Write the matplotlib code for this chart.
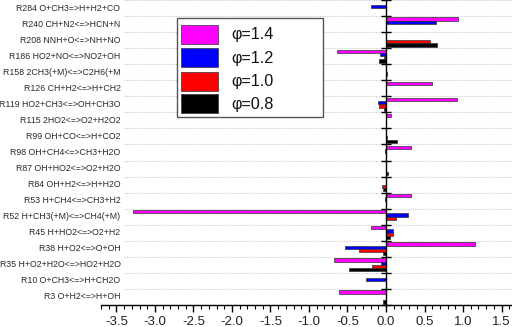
import numpy as np
import matplotlib
matplotlib.use("Agg")
import matplotlib.pyplot as plt
from matplotlib.patches import Rectangle
from matplotlib.ticker import MultipleLocator, FormatStrFormatter
from matplotlib.transforms import blended_transform_factory

plt.rcParams['font.family'] = ['Liberation Sans', 'DejaVu Sans']
plt.rcParams['axes.unicode_minus'] = False

reactions = [
    "R284 O+CH3=>H+H2+CO",
    "R240 CH+N2<=>HCN+N",
    "R208 NNH+O<=>NH+NO",
    "R186 HO2+NO<=>NO2+OH",
    "R158 2CH3(+M)<=>C2H6(+M",
    "R126 CH+H2<=>H+CH2",
    "R119 HO2+CH3<=>OH+CH3O",
    "R115 2HO2<=>O2+H2O2",
    "R99 OH+CO<=>H+CO2",
    "R98 OH+CH4<=>CH3+H2O",
    "R87 OH+HO2<=>O2+H2O",
    "R84 OH+H2<=>H+H2O",
    "R53 H+CH4<=>CH3+H2",
    "R52 H+CH3(+M)<=>CH4(+M)",
    "R45 H+HO2<=>O2+H2",
    "R38 H+O2<=>O+OH",
    "R35 H+O2+H2O<=>HO2+H2O",
    "R10 O+CH3<=>H+CH2O",
    "R3 O+H2<=>H+OH",
]

phi_14 = [0, 0.93, 0, -0.63, 0, 0.60, 0.92, 0.07, 0, 0.32, 0, 0, 0.32, -3.28, -0.195, 1.15, -0.68, 0, -0.61]
phi_12 = [-0.19, 0.65, 0, -0.08, 0, 0, -0.11, 0, 0, -0.01, 0, 0, -0.01, 0.29, 0.095, -0.53, -0.065, -0.265, 0]
phi_10 = [0, 0, 0.57, -0.03, 0.01, 0, -0.09, 0, 0.01, 0, 0, -0.05, 0, 0.13, 0.09, -0.35, -0.18, 0, 0]
phi_08 = [0, 0, 0.66, -0.09, 0, 0, -0.03, 0, 0.14, 0, 0.03, -0.035, 0, 0, 0.055, -0.04, -0.48, 0, -0.035]

series_labels = ["\u03c6=1.4", "\u03c6=1.2", "\u03c6=1.0", "\u03c6=0.8"]
series_colors = ["#ff00ff", "#0000ff", "#ff0000", "#000000"]
series_values = [phi_14, phi_12, phi_10, phi_08]

W, H = 512, 327
fig = plt.figure(figsize=(W / 100, H / 100), dpi=100)
ax = fig.add_axes([101 / W, 22 / H, 411 / W, 305 / H])

n = len(reactions)
y = np.arange(n)
bh = 0.205
offsets = [-1.5, -0.5, 0.5, 1.5]

# grid lines at category boundaries
for b in np.arange(-0.5, n, 1.0):
    ax.axhline(b, xmin=0.055, color='#c8c8c8', lw=0.8, ls=(0, (1, 1.2)), zorder=0)

for vals, col, off, lab in zip(series_values, series_colors, offsets, series_labels):
    ax.barh(y + off * bh, vals, height=bh, color=col, edgecolor='#333333',
            linewidth=0.5, zorder=2, label=lab)

ax.set_ylim(n - 0.5, -0.5)
ax.set_xlim(-3.70, 1.636)

# vertical zero axis
for s in ['top', 'right']:
    ax.spines[s].set_visible(False)
ax.spines['left'].set_position(('data', 0))
ax.spines['left'].set_linewidth(1.0)
ax.spines['left'].set_zorder(3)
ax.set_yticks(np.arange(-0.5, n, 1.0))
ax.tick_params(axis='y', direction='inout', length=7, width=1, labelleft=False)

ax.spines['bottom'].set_linewidth(1.0)
ax.xaxis.set_major_locator(MultipleLocator(0.5))
ax.xaxis.set_minor_locator(MultipleLocator(0.1))
ax.xaxis.set_major_formatter(FormatStrFormatter('%.1f'))
ax.tick_params(axis='x', which='major', direction='out', length=5, width=1,
               labelsize=9.5, pad=3, colors='#000000', labelcolor='#222222')
ax.tick_params(axis='x', which='minor', direction='out', length=3, width=0.8)

trans = blended_transform_factory(fig.transFigure, ax.transData)
for i, lab in enumerate(reactions):
    ax.text(120.5 / W, i, lab, transform=trans, ha='right', va='center',
            fontsize=6.3, color='#2a2a2a', clip_on=False)

# legend box (pixel layout from top-left)
def fx(px):
    return px / W

def fy(py):
    return 1 - py / H

fig.add_artist(Rectangle((fx(176.7), fy(116.5)), fx(322.7) - fx(176.7), fy(18.3) - fy(116.5),
                         transform=fig.transFigure, facecolor='white', edgecolor='#555555',
                         linewidth=1.0, zorder=5))
row_tops = [25.0, 48.2, 71.5, 94.5]
for top, col, lab in zip(row_tops, series_colors, series_labels):
    fig.add_artist(Rectangle((fx(180.7), fy(top + 19)), fx(218.3) - fx(180.7), fy(top) - fy(top + 19),
                             transform=fig.transFigure, facecolor=col, edgecolor='#333333',
                             linewidth=0.5, zorder=6))
    fig.text(fx(231.7), fy(top + 9.8), lab, ha='left', va='center', fontsize=11.7,
             color='#111111', zorder=7)

fig.savefig("out.png", dpi=100)
